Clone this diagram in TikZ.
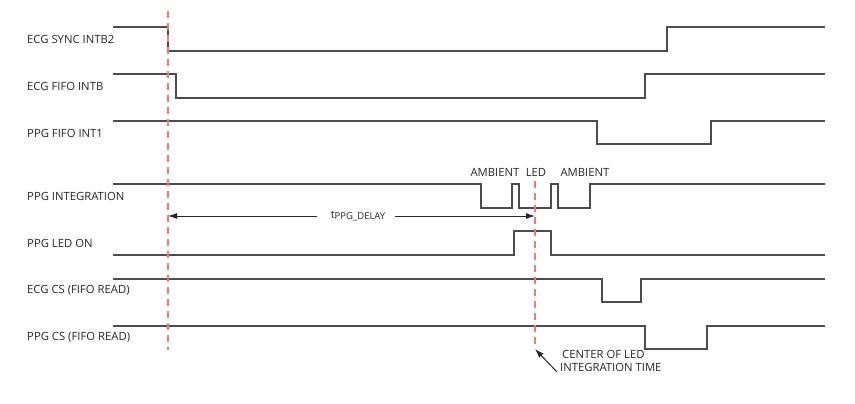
\documentclass[tikz,border=0pt]{standalone}
\usepackage{fontspec}
\setmainfont{Open Sans}
\usetikzlibrary{arrows.meta}
\begin{document}
\begin{tikzpicture}[x=1pt,y=-1pt,
  sig/.style={draw=black!70,line width=1.3pt,line join=miter},
  lbl/.style={anchor=west,inner sep=0pt,font=\fontsize{11.3}{13}\selectfont,text=black!85},
  ann/.style={inner sep=0pt,font=\fontsize{11.3}{13}\selectfont,text=black!85},
  marker/.style={draw=red!55!white,line width=1.3pt,dash pattern=on 7pt off 5pt},
  arr/.style={draw=black!85,line width=1pt,-{Latex[length=9pt,width=6pt]}}]
\useasboundingbox (0,0) rectangle (855,404);
% labels
\node[lbl] (l1) at (27,39) {ECG SYNC INTB2};
\node[lbl] (l2) at (27,86) {ECG FIFO INTB};
\node[lbl] (l3) at (27,133) {PPG FIFO INT1};
\node[lbl] (l4) at (27,196) {PPG INTEGRATION};
\node[lbl] (l5) at (27,243) {PPG LED ON};
\node[lbl] (l6) at (27,290) {ECG CS (FIFO READ)};
\node[lbl] (l7) at (27,337) {PPG CS (FIFO READ)};
% waveforms
\draw[sig] (113,27) -- (168,27) -- (168,51) -- (667,51) -- (667,27) -- (825,27);
\draw[sig] (113,74) -- (176,74) -- (176,98) -- (645,98) -- (645,74) -- (825,74);
\draw[sig] (113,121) -- (597,121) -- (597,144) -- (711,144) -- (711,121) -- (825,121);
\draw[sig] (113,184) -- (481,184) -- (481,208) -- (512,208) -- (512,184) -- (519,184) -- (519,208)
  -- (551,208) -- (551,184) -- (558,184) -- (558,208) -- (590,208) -- (590,184) -- (825,184);
\draw[sig] (113,255) -- (514,255) -- (514,231) -- (551,231) -- (551,255) -- (825,255);
\draw[sig] (113,279) -- (602,279) -- (602,302) -- (641,302) -- (641,279) -- (825,279);
\draw[sig] (113,326) -- (645,326) -- (645,349) -- (707,349) -- (707,326) -- (825,326);
% phase labels
\node[ann] (amb1) at (495,172) {AMBIENT};
\node[ann] (led) at (536,172) {LED};
\node[ann] (amb2) at (585,172) {AMBIENT};
% markers
\coordinate (m1top) at (168,11);
\coordinate (m1bot) at (168,350);
\coordinate (m2top) at (535,181);
\coordinate (m2bot) at (535,347);
\draw[marker] (m1top) -- (m1bot);
\draw[marker] (m2top) -- (m2bot);
% delay
\node[ann] (delay) at (358,216) {t\raisebox{-0.8pt}{\fontsize{9.5}{11}\selectfont PPG\_DELAY}};
\coordinate (dl) at (168,216);
\coordinate (dr) at (535,216);
\draw[arr] (317,216) -- (dl);
\draw[arr] (395,216) -- (dr);
% annotation
\node[ann,align=left,anchor=north west] (center) at (560,350) {\hspace*{2pt}CENTER OF LED\\INTEGRATION TIME};
\coordinate (ctip) at (535,349);
\draw[arr] (557,372) -- (ctip);
\end{tikzpicture}
\end{document}
